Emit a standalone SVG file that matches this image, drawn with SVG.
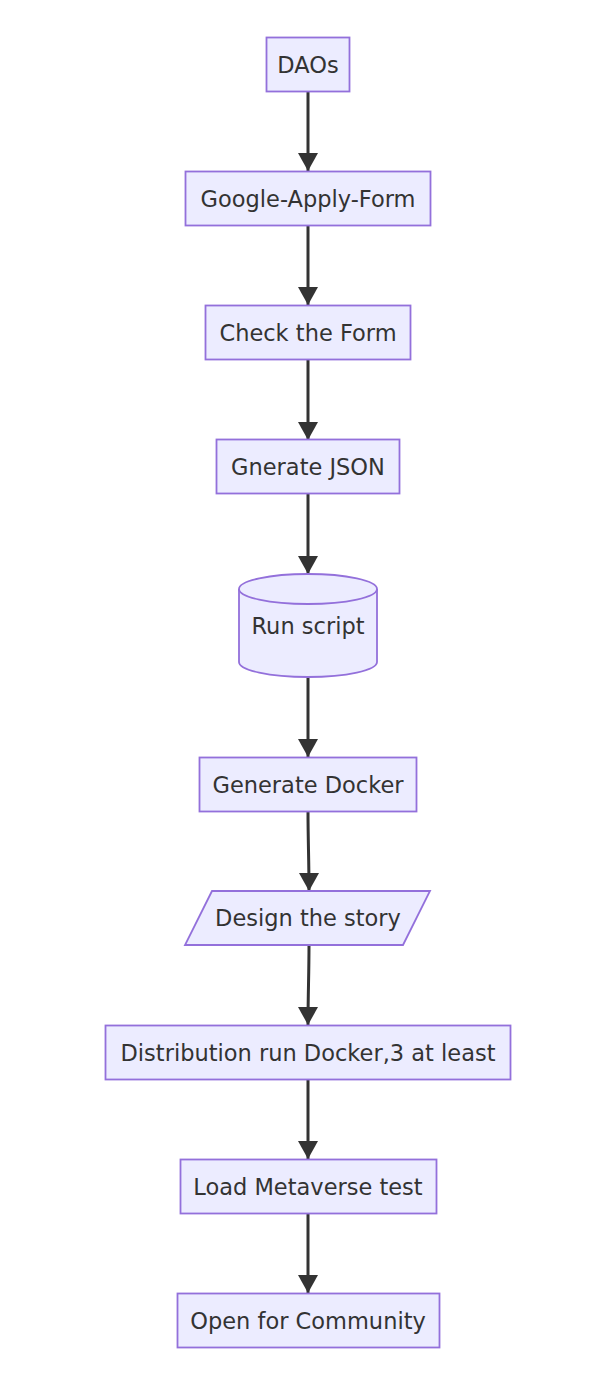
<svg xmlns="http://www.w3.org/2000/svg" width="596" height="1382" viewBox="0 0 596 1382">
<style>
.n{fill:#ECECFF;stroke:#9370DB;stroke-width:1.8}
.t{font-family:"DejaVu Sans",Verdana,sans-serif;font-size:22.5px;fill:#333;text-anchor:middle;dominant-baseline:central}
.e{stroke:#333;stroke-width:3;fill:none}
</style>
<defs>
<marker id="ah" markerUnits="userSpaceOnUse" markerWidth="20" markerHeight="20" viewBox="0 0 20 20" refX="18" refY="10" orient="auto">
<path d="M0,0 L18,10 L0,20 z" fill="#333"/>
</marker>
</defs>
<rect width="596" height="1382" fill="#fff"/>
<g id="edges">
<path class="e" d="M308,91.5 V171" marker-end="url(#ah)"/>
<path class="e" d="M308,225.5 V305" marker-end="url(#ah)"/>
<path class="e" d="M308,359.5 V440" marker-end="url(#ah)"/>
<path class="e" d="M308,493.5 V574" marker-end="url(#ah)"/>
<path class="e" d="M308,677 V757" marker-end="url(#ah)"/>
<path class="e" d="M308,811 C308,840 309,860 309,891" marker-end="url(#ah)"/>
<path class="e" d="M309,945 C309,975 308,995 308,1025" marker-end="url(#ah)"/>
<path class="e" d="M308,1079 V1159" marker-end="url(#ah)"/>
<path class="e" d="M308,1213 V1293" marker-end="url(#ah)"/>
</g>
<g id="daos"><rect class="n" x="266.5" y="37.5" width="83" height="54"/><text class="t" x="308" y="64.5">DAOs</text></g>
<g id="form"><rect class="n" x="185.5" y="171.5" width="245" height="54"/><text class="t" x="308" y="198.5">Google-Apply-Form</text></g>
<g id="check"><rect class="n" x="205.5" y="305.5" width="205" height="54"/><text class="t" x="308" y="332.5">Check the Form</text></g>
<g id="json"><rect class="n" x="216.5" y="439.5" width="183" height="54"/><text class="t" x="308" y="466.5">Gnerate JSON</text></g>
<g id="script">
<path class="n" d="M239,589 A69,15 0 0 1 377,589 V662 A69,15 0 0 1 239,662 Z"/>
<path class="n" d="M239,589 A69,15 0 0 0 377,589" fill="none"/>
<text class="t" x="308" y="626">Run script</text>
</g>
<g id="docker"><rect class="n" x="199.5" y="757.5" width="217" height="54"/><text class="t" x="308" y="784.5">Generate Docker</text></g>
<g id="story"><polygon class="n" points="212,891 430,891 403,945 185,945"/><text class="t" x="308" y="918">Design the story</text></g>
<g id="dist"><rect class="n" x="105.5" y="1025.5" width="405" height="54"/><text class="t" x="308" y="1052.5">Distribution run Docker,3 at least</text></g>
<g id="meta"><rect class="n" x="180.5" y="1159.5" width="256" height="54"/><text class="t" x="308" y="1186.5">Load Metaverse test</text></g>
<g id="open"><rect class="n" x="177.5" y="1293.5" width="262" height="54"/><text class="t" x="308" y="1320.5">Open for Community</text></g>
</svg>
